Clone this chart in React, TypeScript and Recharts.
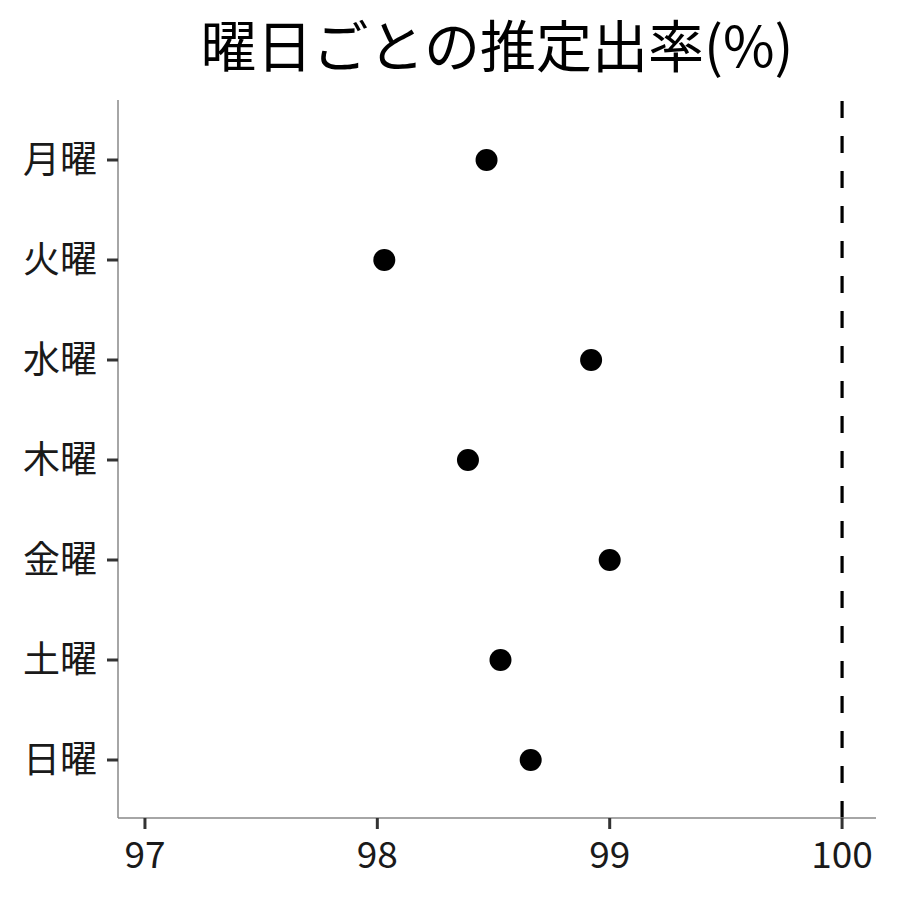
import { ReferenceLine, Scatter, ScatterChart, XAxis, YAxis } from "recharts";

// 曜日ごとの推定出率 — dot plot with a dashed reference at 100%.

const days = ["月曜", "火曜", "水曜", "木曜", "金曜", "土曜", "日曜"];
const rates = [98.47, 98.03, 98.92, 98.39, 99.0, 98.53, 98.66];
const xTicks = [97, 98, 99, 100];
const refValue = 100;

const font = '"Noto Sans CJK JP", "Noto Sans", sans-serif';

const data = days.map((day, i) => ({ day, idx: i + 1, rate: rates[i] }));

export default function App() {
  return (
    <div style={{ position: "absolute", left: 0, top: 0, width: 900, height: 900, background: "#fff", fontFamily: font }}>
      <div
        style={{
          position: "absolute",
          left: 0,
          width: 994,
          top: 5,
          textAlign: "center",
          fontSize: 56,
          lineHeight: "76px",
          color: "#000",
        }}
      >
        曜日ごとの推定出率(%)
      </div>
      <ScatterChart width={900} height={900} margin={{ top: 100, right: 24, bottom: 0, left: 0 }}>
        <XAxis
          type="number"
          dataKey="rate"
          domain={[96.884, 100.146]}
          ticks={xTicks}
          allowDataOverflow
          height={82}
          tickSize={11}
          tickMargin={13}
          axisLine={{ stroke: "#888", strokeWidth: 1.5 }}
          tickLine={{ stroke: "#333", strokeWidth: 3 }}
          tick={{ fill: "#1a1a1a", fontSize: 37, fontFamily: font }}
        />
        <YAxis
          type="number"
          dataKey="idx"
          domain={[0.4, 7.58]}
          ticks={days.map((_, i) => i + 1)}
          tickFormatter={(v: number) => days[v - 1]}
          reversed
          allowDataOverflow
          width={118}
          tickSize={11}
          tickMargin={10}
          axisLine={{ stroke: "#888", strokeWidth: 1.5 }}
          tickLine={{ stroke: "#333", strokeWidth: 3 }}
          tick={{ fill: "#1a1a1a", fontSize: 37, fontFamily: font }}
        />
        <ReferenceLine x={refValue} stroke="#000" strokeWidth={3.2} strokeDasharray="17 18" />
        <Scatter
          data={data}
          fill="#000"
          isAnimationActive={false}
          shape={(p: any) => <circle cx={p.cx} cy={p.cy} r={11} fill="#000" />}
        />
      </ScatterChart>
    </div>
  );
}
